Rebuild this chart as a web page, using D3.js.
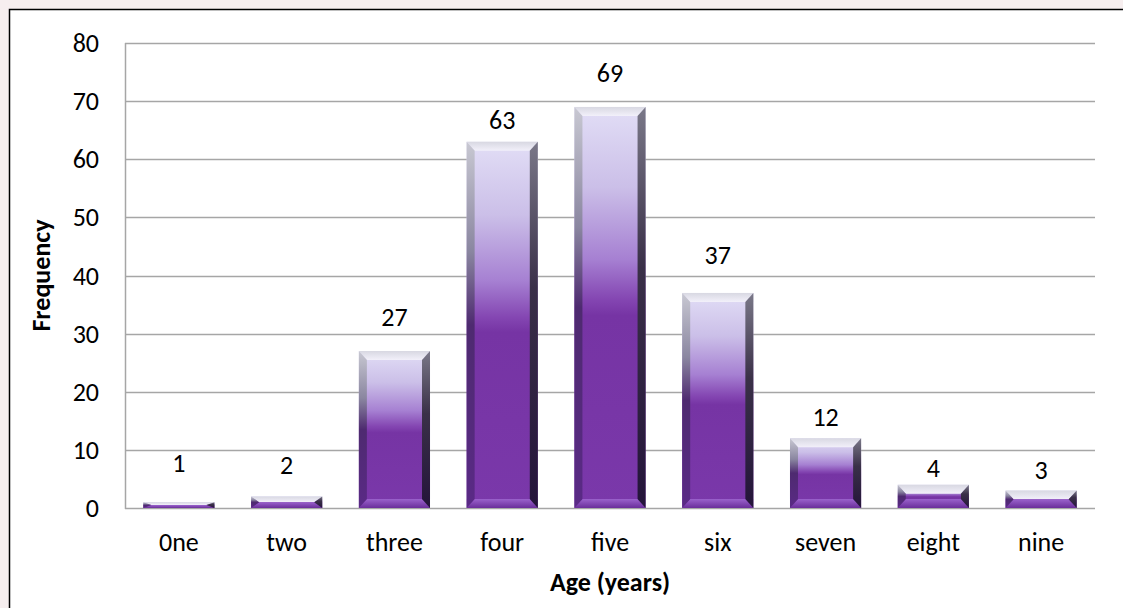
<!DOCTYPE html>
<html>
<head>
<meta charset="utf-8">
<script src="https://cdn.jsdelivr.net/npm/d3@7"></script>
<style>
  body { margin: 0; background: #fff; }
  text { font-family: Calibri, Carlito, Lato, "Open Sans", sans-serif; }
</style>
</head>
<body>
<div class="chart"></div>
<script>
// data
const ages = ["0ne", "two", "three", "four", "five", "six", "seven", "eight", "nine"];
const frequency = [1, 2, 27, 63, 69, 37, 12, 4, 3];
const yTicks = [0, 10, 20, 30, 40, 50, 60, 70, 80];

const W = 1123, H = 608;
const margin = { top: 43, right: 28, bottom: 100, left: 125 };
const fs = 26;

const svg = d3.select(".chart").append("svg")
  .attr("width", W).attr("height", H);

// faint page tint outside the frame
svg.append("rect").attr("width", W).attr("height", H).attr("fill", "#f6eeef");
svg.append("rect")
  .attr("x", 9.5).attr("y", 9.5)
  .attr("width", W).attr("height", H)
  .attr("fill", "#fff").attr("stroke", "#000").attr("stroke-width", 1.5);

const x = d3.scaleBand(ages, [margin.left, W - margin.right])
  .paddingInner(0.34).paddingOuter(0.17);
const y = d3.scaleLinear([0, 80], [H - margin.bottom, margin.top]);

// gradients
const defs = svg.append("defs");
function grad(id, x2, y2, stops) {
  const g = defs.append("linearGradient").attr("id", id)
    .attr("x1", 0).attr("y1", 0).attr("x2", x2).attr("y2", y2);
  stops.forEach(([o, c]) => g.append("stop").attr("offset", o).attr("stop-color", c));
}
grad("face", 0, 1, [[0, "#e2def6"], [0.2, "#cbbfe8"], [0.38, "#a680d2"], [0.48, "#8446b2"], [0.52, "#7634a4"], [1, "#7a38aa"]]);
grad("bevL", 0, 1, [[0, "#c8c8d2"], [0.3, "#8a86a0"], [0.5, "#4e2a70"], [1, "#5a2a86"]]);
grad("bevR", 0, 1, [[0, "#7a7888"], [0.4, "#3a3048"], [1, "#24143a"]]);
grad("bevT", 0, 1, [[0, "#d8d8e2"], [1, "#f2f0fa"]]);
grad("bevB", 0, 1, [[0, "#9a62cc"], [1, "#6a2e9a"]]);

// gridlines
svg.append("g")
  .selectAll("line").data(yTicks).join("line")
  .attr("x1", margin.left).attr("x2", W - margin.right)
  .attr("y1", d => Math.round(y(d)) + 0.5).attr("y2", d => Math.round(y(d)) + 0.5)
  .attr("stroke", "#a6a6a6").attr("stroke-width", 1.5);
svg.append("line")
  .attr("x1", margin.left + 0.5).attr("x2", margin.left + 0.5)
  .attr("y1", y(80)).attr("y2", y(0) + 1)
  .attr("stroke", "#a6a6a6").attr("stroke-width", 1.5);

// y tick labels
svg.append("g")
  .selectAll("text").data(yTicks).join("text")
  .attr("x", 99).attr("y", d => y(d))
  .attr("dy", "0.35em").attr("text-anchor", "end")
  .attr("font-size", fs).attr("fill", "#000")
  .text(d => d);

// bevelled bars
const bars = svg.append("g")
  .selectAll("g").data(ages.map((a, i) => ({ age: a, v: frequency[i], i }))).join("g");

bars.each(function (d) {
  const g = d3.select(this);
  const x0 = x(d.age), x1 = x0 + x.bandwidth();
  const y0 = y(d.v), y1 = y(0);
  const bs = Math.min(8, (x1 - x0) / 2), bt = Math.min(9, (y1 - y0) / 2);
  const pts = a => a.map(p => p.join(",")).join(" ");
  g.append("rect").attr("x", x0).attr("y", y0)
    .attr("width", x1 - x0).attr("height", y1 - y0).attr("fill", "url(#face)");
  g.append("polygon").attr("fill", "url(#bevT)")
    .attr("points", pts([[x0, y0], [x1, y0], [x1 - bs, y0 + bt], [x0 + bs, y0 + bt]]));
  g.append("polygon").attr("fill", "url(#bevB)")
    .attr("points", pts([[x0, y1], [x1, y1], [x1 - bs, y1 - bt], [x0 + bs, y1 - bt]]));
  g.append("polygon").attr("fill", "url(#bevL)")
    .attr("points", pts([[x0, y0], [x0 + bs, y0 + bt], [x0 + bs, y1 - bt], [x0, y1]]));
  g.append("polygon").attr("fill", "url(#bevR)")
    .attr("points", pts([[x1, y0], [x1 - bs, y0 + bt], [x1 - bs, y1 - bt], [x1, y1]]));
});

// value labels (hand-placed in the original, so the gap above each bar varies)
const labelGap = [39, 31, 34, 22, 34, 38, 21, 17, 21];
bars.append("text")
  .attr("x", d => x(d.age) + x.bandwidth() / 2)
  .attr("y", d => y(d.v) - labelGap[d.i]).attr("dy", "0.35em")
  .attr("text-anchor", "middle").attr("font-size", fs).attr("fill", "#000")
  .text(d => d.v);

// x tick labels
svg.append("g")
  .selectAll("text").data(ages).join("text")
  .attr("x", d => x(d) + x.bandwidth() / 2)
  .attr("y", 542).attr("dy", "0.35em")
  .attr("text-anchor", "middle").attr("font-size", fs).attr("fill", "#000")
  .text(d => d);

// axis titles
svg.append("text")
  .attr("x", (margin.left + W - margin.right) / 2).attr("y", 582).attr("dy", "0.35em")
  .attr("text-anchor", "middle").attr("font-size", fs).attr("font-weight", "bold")
  .text("Age (years)");
svg.append("text")
  .attr("transform", `translate(41, ${(y(0) + y(80)) / 2}) rotate(-90)`)
  .attr("dy", "0.35em")
  .attr("text-anchor", "middle").attr("font-size", fs).attr("font-weight", "bold")
  .text("Frequency");
</script>
</body>
</html>
